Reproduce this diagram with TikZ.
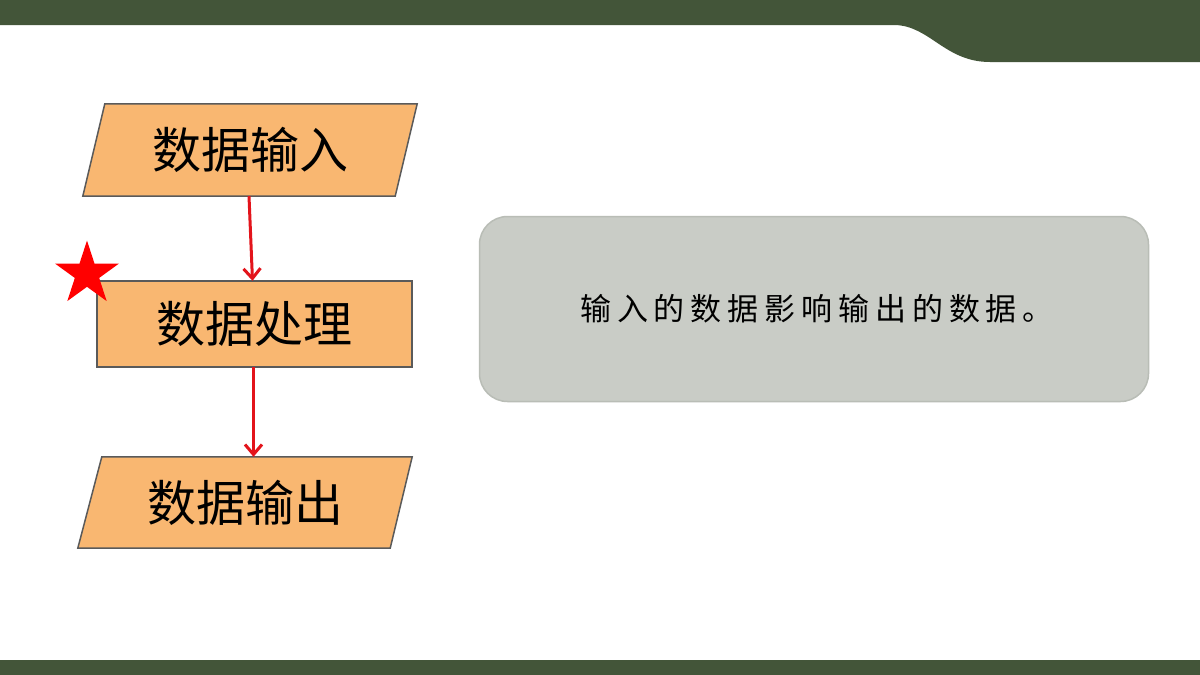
\documentclass[tikz,border=0pt]{standalone}
\usepackage{fontspec}
\setmainfont{Noto Sans CJK SC}
\newfontfamily\cjk{Noto Sans CJK SC}
\usetikzlibrary{shapes.geometric,arrows.meta,backgrounds}
\definecolor{hdr}{HTML}{435539}
\definecolor{boxfill}{HTML}{F9B771}
\definecolor{boxline}{HTML}{5A5A5A}
\definecolor{arrred}{HTML}{E3141B}
\definecolor{grayfill}{HTML}{C9CCC6}
\definecolor{grayline}{HTML}{B9BDB6}
\tikzset{
  flowtext/.style={inner sep=0pt, minimum width=#1, minimum height=92pt, font=\cjk\fontsize{49}{54}\selectfont, text=black},
  shapefill/.style={fill=boxfill, draw=boxline, line width=1.5pt, line join=miter},
  flowarrow/.style={draw=arrred, line width=3pt, -{Straight Barb[length=10pt,width=17pt,line width=3pt]}},
}
\begin{document}
\begin{tikzpicture}[x=1pt,y=-1pt]
\useasboundingbox (0,0) rectangle (1200,675);

% flow nodes
\node[flowtext=334pt] (p1) at (250,150) {\raisebox{-2pt}{数据输入}};
\node[flowtext=315pt, minimum height=86pt] (p2) at (254.5,324) {\raisebox{-2pt}{数据处理}};
\node[flowtext=334pt, minimum height=91pt] (p3) at (245,502.5) {\raisebox{-2pt}{数据输出}};

\begin{pgfonlayer}{background}
\fill[white] (0,0) rectangle (1200,675);
% header band
\fill[hdr] (0,0) -- (1200,0) -- (1200,62) -- (990,62)
  .. controls (945,62) and (930,26) .. (895,25) -- (0,25) -- cycle;
% footer band
\fill[hdr] (0,660) rectangle (1200,675);
\path[shapefill] (p1.south west) -- ([xshift=22pt]p1.north west) -- (p1.north east) -- ([xshift=-22pt]p1.south east) -- cycle;
\path[shapefill] (p2.south west) rectangle (p2.north east);
\path[shapefill] (p3.south west) -- ([xshift=24pt]p3.north west) -- (p3.north east) -- ([xshift=-22pt]p3.south east) -- cycle;
\end{pgfonlayer}

\node[star, star points=5, star point ratio=2.618, minimum size=67pt, inner sep=0pt, fill=red] (st) at (87,274) {};

% connectors
\draw[flowarrow] ([xshift=-1pt]p1.south) -- ([xshift=-2pt]p2.north);
\draw[flowarrow] ([xshift=-1pt]p2.south) -- ([xshift=-1pt]p2.south |- p3.north);

% note box
\node[draw=grayline, fill=grayfill, line width=1.5pt, rounded corners=28pt,
      minimum width=669pt, minimum height=185pt, inner sep=0pt,
      font=\cjk\fontsize{31}{36}\selectfont\addfontfeature{LetterSpace=19}] (note) at (814,309)
  {\hspace*{6pt}\raisebox{-2pt}{输入的数据影响输出的数据。}};
\end{tikzpicture}
\end{document}
